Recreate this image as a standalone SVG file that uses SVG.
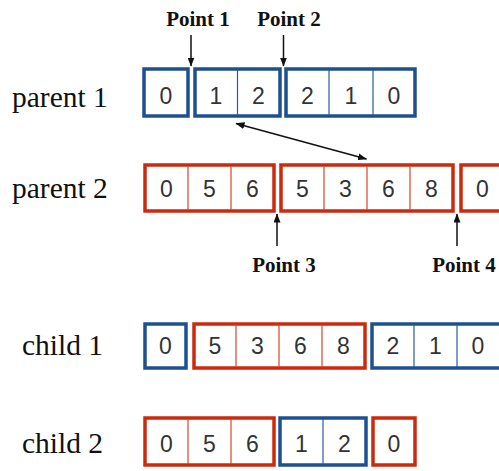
<svg xmlns="http://www.w3.org/2000/svg" width="499" height="471" viewBox="0 0 499 471">
<defs>
<style>
.lbl{font-family:"Liberation Serif","Times New Roman",serif;font-size:29.5px;fill:#111}
.pt{font-family:"Liberation Serif","Times New Roman",serif;font-size:21px;font-weight:bold;fill:#111;text-anchor:middle}
.num{font-family:"Liberation Sans",Arial,sans-serif;font-size:23px;fill:#333;text-anchor:middle}
.b{fill:#fff;stroke:#1c5090;stroke-width:3.5}
.r{fill:#fff;stroke:#cc2a0e;stroke-width:3.5}
.bd{stroke:#2a5c99;stroke-width:1.2}
.rd{stroke:#d8442a;stroke-width:1.2}
.arr{stroke:#111;stroke-width:1.5;fill:none}
</style>
<marker id="ah" markerWidth="9" markerHeight="7" refX="8.5" refY="3.5" orient="auto-start-reverse" markerUnits="userSpaceOnUse">
<path d="M0,0 L9,3.5 L0,7 z" fill="#111"/>
</marker>
</defs>

<g id="labels">
<text class="lbl" x="12" y="107">parent 1</text>
<text class="lbl" x="12" y="198">parent 2</text>
<text class="lbl" x="22" y="355">child 1</text>
<text class="lbl" x="22" y="453">child 2</text>
<text class="pt" x="198" y="26">Point 1</text>
<text class="pt" x="289" y="26">Point 2</text>
<text class="pt" x="284" y="272">Point 3</text>
<text class="pt" x="464" y="272">Point 4</text>
</g>

<g id="parent1">
<rect class="b" x="144" y="69" width="44" height="47"/>
<rect class="b" x="195" y="69" width="85" height="47"/>
<line class="bd" x1="237.5" y1="70" x2="237.5" y2="115"/>
<rect class="b" x="286" y="69" width="129" height="47"/>
<line class="bd" x1="329" y1="70" x2="329" y2="115"/>
<line class="bd" x1="373" y1="70" x2="373" y2="115"/>
<text class="num" x="166" y="104">0</text>
<text class="num" x="216" y="104">1</text>
<text class="num" x="258.5" y="104">2</text>
<text class="num" x="307.5" y="104">2</text>
<text class="num" x="351" y="104">1</text>
<text class="num" x="394" y="104">0</text>
</g>

<g id="parent2">
<rect class="r" x="145" y="165" width="129" height="46"/>
<line class="rd" x1="188" y1="166" x2="188" y2="210"/>
<line class="rd" x1="231" y1="166" x2="231" y2="210"/>
<rect class="r" x="281" y="165" width="172" height="46"/>
<line class="rd" x1="324" y1="166" x2="324" y2="210"/>
<line class="rd" x1="367" y1="166" x2="367" y2="210"/>
<line class="rd" x1="410" y1="166" x2="410" y2="210"/>
<rect class="r" x="461" y="165" width="60" height="46"/>
<text class="num" x="166.5" y="197">0</text>
<text class="num" x="209.5" y="197">5</text>
<text class="num" x="252.5" y="197">6</text>
<text class="num" x="302.5" y="197">5</text>
<text class="num" x="345.5" y="197">3</text>
<text class="num" x="388.5" y="197">6</text>
<text class="num" x="431.5" y="197">8</text>
<text class="num" x="482.5" y="197">0</text>
</g>

<g id="child1">
<rect class="b" x="145" y="324" width="41" height="44"/>
<rect class="r" x="194" y="324" width="171" height="44"/>
<line class="rd" x1="236" y1="325" x2="236" y2="367"/>
<line class="rd" x1="279" y1="325" x2="279" y2="367"/>
<line class="rd" x1="322" y1="325" x2="322" y2="367"/>
<rect class="b" x="372" y="324" width="150" height="44"/>
<line class="bd" x1="414" y1="325" x2="414" y2="367"/>
<line class="bd" x1="457" y1="325" x2="457" y2="367"/>
<text class="num" x="165.5" y="354">0</text>
<text class="num" x="215" y="354">5</text>
<text class="num" x="257.5" y="354">3</text>
<text class="num" x="300.5" y="354">6</text>
<text class="num" x="343.5" y="354">8</text>
<text class="num" x="393" y="354">2</text>
<text class="num" x="435.5" y="354">1</text>
<text class="num" x="478" y="354">0</text>
</g>

<g id="child2">
<rect class="r" x="145" y="418" width="129" height="47"/>
<line class="rd" x1="188" y1="419" x2="188" y2="464"/>
<line class="rd" x1="231" y1="419" x2="231" y2="464"/>
<rect class="b" x="280" y="418" width="86" height="47"/>
<line class="bd" x1="323" y1="419" x2="323" y2="464"/>
<rect class="r" x="373" y="418" width="42" height="47"/>
<text class="num" x="166.5" y="452">0</text>
<text class="num" x="209.5" y="452">5</text>
<text class="num" x="252.5" y="452">6</text>
<text class="num" x="301.5" y="452">1</text>
<text class="num" x="344.5" y="452">2</text>
<text class="num" x="394" y="452">0</text>
</g>

<g id="connectors">
<line class="arr" x1="191" y1="35" x2="191" y2="66" marker-end="url(#ah)"/>
<line class="arr" x1="283.5" y1="35" x2="283.5" y2="66" marker-end="url(#ah)"/>
<line class="arr" x1="277" y1="246" x2="277" y2="214" marker-end="url(#ah)"/>
<line class="arr" x1="457" y1="246" x2="457" y2="214" marker-end="url(#ah)"/>
<line class="arr" x1="236" y1="123.5" x2="366.5" y2="159" marker-start="url(#ah)" marker-end="url(#ah)"/>
</g>
</svg>
